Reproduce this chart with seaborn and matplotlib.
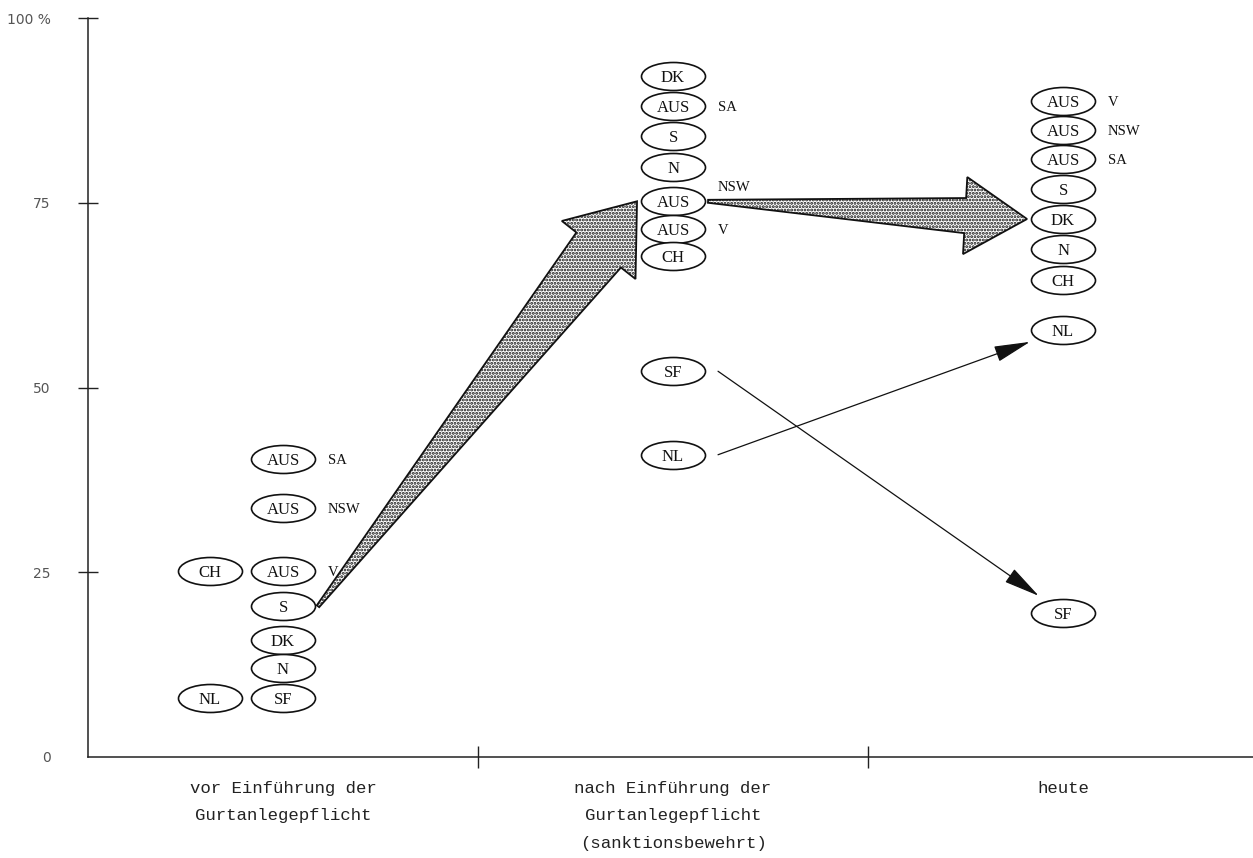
import numpy as np
import pandas as pd
import seaborn as sns
import matplotlib.pyplot as plt
from matplotlib.path import Path
from matplotlib.markers import MarkerStyle
from matplotlib.transforms import Affine2D
from matplotlib.patches import Polygon

stages = ["vor Einführung der\nGurtanlegepflicht",
          "nach Einführung der\nGurtanlegepflicht\n(sanktionsbewehrt)",
          "heute"]

# seat belt wearing rate in %, by country (and Australian state)
before_names = ["AUS SA", "AUS NSW", "AUS V", "CH", "S", "DK", "N", "SF", "NL"]
before_values = [40.3, 33.7, 25.2, 25.2, 20.4, 15.8, 12.0, 8.0, 8.0]

after_names = ["DK", "AUS SA", "S", "N", "AUS NSW", "AUS V", "CH", "SF", "NL"]
after_values = [92.2, 88.1, 84.0, 79.8, 75.2, 71.4, 67.8, 52.2, 40.9]

today_names = ["AUS V", "AUS NSW", "AUS SA", "S", "DK", "N", "CH", "NL", "SF"]
today_values = [88.8, 84.8, 80.9, 76.9, 72.8, 68.7, 64.5, 57.8, 19.5]

# (stage, name) -> (stage, name)
big_arrows = [((0, "S"), (1, "AUS NSW")), ((1, "AUS NSW"), (2, "DK"))]
thin_arrows = [((1, "NL"), (2, "NL")), ((1, "SF"), (2, "SF"))]

sns.set_style("white")
plt.rcParams["hatch.linewidth"] = 1.4

rows = []
for stage, (names, vals) in enumerate([(before_names, before_values),
                                        (after_names, after_values),
                                        (today_names, today_values)]):
    seen = set()
    for name, v in zip(names, vals):
        x = stage - 0.187 if v in seen else stage   # same value -> put it left
        seen.add(v)
        parts = name.split()
        rows.append(dict(stage=stage, name=name, country=parts[0],
                         state=parts[1] if len(parts) > 1 else "", x=x, value=v))
df = pd.DataFrame(rows)

fig = plt.figure(figsize=(12.53, 8.58), dpi=100)
ax = fig.add_axes([0, 0, 1, 1])
ax.set_xlim(-0.7256, 2.487)
ax.set_ylim(-13.67, 102.44)

# ellipse marker, 64 x 28 px
a_px, b_px = 32, 14
ell = MarkerStyle(Path.unit_circle().transformed(Affine2D().scale(1, b_px / a_px)))
sns.scatterplot(data=df, x="x", y="value", marker=ell, s=(2 * a_px * 0.72) ** 2,
                color="white", edgecolor="#111", linewidth=1.2, ax=ax, zorder=3)

arrow_starts = {s for s, _ in big_arrows}
for r in df.itertuples():
    ax.text(r.x, r.value, r.country, ha="center", va="center_baseline",
            fontsize=12, family="Liberation Serif", color="#111", zorder=4)
    if r.state:
        lift = 11 if (r.stage, r.name) in arrow_starts else 0
        ax.annotate(r.state, (r.x, r.value), xytext=(a_px * 0.72 + 9, lift),
                    textcoords="offset points", ha="left", va="center_baseline",
                    fontsize=10.5, family="Liberation Serif", color="#111")


def px(stage, name):
    r = df[(df.stage == stage) & (df.name == name)].iloc[0]
    return ax.transData.transform((r.x, r.value))


to_data = ax.transData.inverted()

for src, dst in big_arrows:
    c0, c1 = px(*src), px(*dst)
    p = c0 + np.array([a_px + 3, 0])
    t = c1 + np.array([-a_px - 4, 0])
    d = t - p
    L = np.hypot(*d)
    u = d / L
    n = np.array([-u[1], u[0]])
    H, W, S, T0 = 62, 50 + 0.085 * L, 0.11 * L, 3
    B = t - u * H
    pts = [p + n * T0 / 2, B + n * S / 2, B + n * W / 2, t,
           B - n * W / 2, B - n * S / 2, p - n * T0 / 2]
    ax.add_patch(Polygon(to_data.transform(pts), closed=True, facecolor="white",
                         edgecolor="#111", hatch=".....", linewidth=1.3, zorder=5))

for src, dst in thin_arrows:
    c0, c1 = px(*src), px(*dst)
    p = c0 + np.array([a_px + 13, 0])
    d = c1 - p
    u = d / np.hypot(*d)
    tt = 1 / np.hypot(u[0] / a_px, u[1] / b_px)
    t = c1 - u * (tt + 9)
    ax.annotate("", xy=to_data.transform(t), xytext=to_data.transform(p),
                arrowprops=dict(arrowstyle="-|>,head_length=1.9,head_width=0.42",
                                color="#111", lw=0.9, shrinkA=0, shrinkB=0,
                                mutation_scale=12), zorder=5)

# axes
for side in ["top", "right"]:
    ax.spines[side].set_visible(False)
ax.spines["left"].set_position(("data", -0.5))
ax.spines["bottom"].set_position(("data", 0))
ax.spines["left"].set_bounds(0, 100)
ax.spines["bottom"].set_bounds(-0.5, 2.487)
for side in ["left", "bottom"]:
    ax.spines[side].set_color("#222")
    ax.spines[side].set_linewidth(1.1)

ax.set_yticks([0, 25, 50, 75, 100], ["0", "25", "50", "75", "100 %"])
ax.tick_params(axis="y", left=True, direction="inout", length=14, width=1, color="#222",
               pad=20, labelsize=10, labelcolor="#555")
ax.yaxis.get_major_ticks()[0].tick1line.set_visible(False)

ax.set_xticks([0.5, 1.5], ["", ""])
ax.tick_params(axis="x", which="major", bottom=True, direction="inout", length=16,
               width=1, color="#222")
ax.set_xticks([0, 1, 2], stages, minor=True)
ax.tick_params(axis="x", which="minor", bottom=True, length=0, pad=17, labelsize=12.5,
               labelcolor="#222")
for lbl in ax.get_xticklabels(minor=True):
    lbl.set_family("Liberation Mono")
    lbl.set_linespacing(2.05)

ax.set_xlabel("")
ax.set_ylabel("")
ax.patch.set_alpha(0)
fig.savefig("out.png", dpi=100)
